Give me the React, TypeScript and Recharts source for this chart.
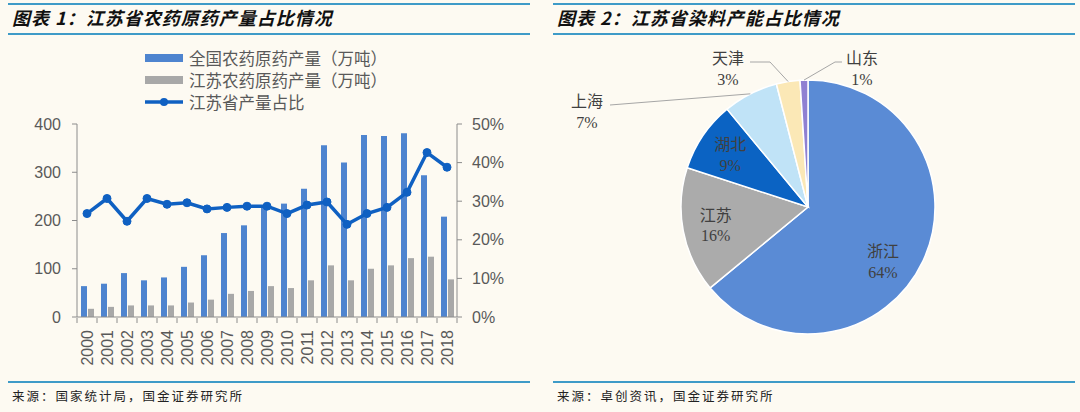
import { Bar, Cell, ComposedChart, Line, Pie, PieChart, XAxis, YAxis } from 'recharts'

const years = ['2000', '2001', '2002', '2003', '2004', '2005', '2006', '2007', '2008', '2009', '2010', '2011', '2012', '2013', '2014', '2015', '2016', '2017', '2018']
const nationalOutput = [64, 69, 91, 76, 82, 104, 128, 174, 190, 230, 235, 266, 356, 320, 377, 375, 381, 294, 208]
const jiangsuOutput = [17, 21, 24, 24, 24, 30, 36, 48, 54, 64, 60, 76, 107, 76, 100, 107, 122, 125, 78]
const jiangsuShare = [26.8, 30.7, 24.8, 30.7, 29.2, 29.6, 28.0, 28.4, 28.7, 28.7, 26.8, 29.0, 29.8, 24.0, 26.8, 28.4, 32.3, 42.6, 38.8]

const outputTicks = [0, 100, 200, 300, 400]
const shareTicks = [0, 10, 20, 30, 40, 50]

const provinces = ['浙江', '江苏', '湖北', '上海', '天津', '山东']
const capacityShare = [64, 16, 9, 7, 3, 1]
const sliceColors = ['#5A8BD5', '#ABABAB', '#0B63C3', '#C0E3F7', '#FBE8B6', '#8F80D2']

const NATIONAL_NAME = '全国农药原药产量（万吨）'
const JIANGSU_NAME = '江苏农药原药产量（万吨）'
const SHARE_NAME = '江苏省产量占比'

const BLUE = '#4E84CF'
const GRAY = '#A8A8A8'
const LINE_BLUE = '#0F60C2'
const RULE = '#3E9BC8'
const TEXT = '#595959'
const BG = '#FDFAF2'

const barData = years.map((year, i) => ({
  year,
  national: nationalOutput[i],
  jiangsu: jiangsuOutput[i],
  share: jiangsuShare[i],
}))

const pieData = provinces.map((name, i) => ({ name, value: capacityShare[i] }))

// hand-placed labels for the thin slices (offsets from pie centre), like the source
const outsideLabels: Record<string, { dx: number; dy: number; ex: number; ey: number; tx: number; ty: number }> = {
  上海: { dx: -221, dy: -106, ex: -198, ey: -102, tx: -198, ty: -102 },
  天津: { dx: -80, dy: -149, ex: -38, ey: -145, tx: -58, ty: -145 },
  山东: { dx: 54, dy: -149, ex: 27, ey: -145, tx: 34, ty: -145 },
}
const insideShift: Record<string, { dx: number; dy: number }> = {
  浙江: { dx: -10, dy: 14 },
}

const RADIAN = Math.PI / 180
const tickFont = { fill: TEXT, fontSize: 16, fontFamily: '"Liberation Sans", Arial, sans-serif' }
const pieFont = { fill: '#404040', fontSize: 16, fontFamily: '"Liberation Serif", "Noto Sans CJK SC", serif' }

function YearTick({ x, y, payload, index, visibleTicksCount }: any) {
  const half = 10
  return (
    <g>
      <line x1={x - half} x2={x - half} y1={y - 7} y2={y - 2} stroke="#8C8C8C" />
      {index === visibleTicksCount - 1 ? <line x1={x + half} x2={x + half} y1={y - 7} y2={y - 2} stroke="#8C8C8C" /> : null}
      <text
        transform={`translate(${x},${y + 5}) rotate(-90)`}
        textAnchor="end"
        dominantBaseline="central"
        {...tickFont}
      >
        {payload.value}
      </text>
    </g>
  )
}

function renderPieLabel(props: any) {
  const { cx, cy, midAngle, outerRadius, name, value } = props
  const cos = Math.cos(-midAngle * RADIAN)
  const sin = Math.sin(-midAngle * RADIAN)
  const layout = outsideLabels[name]

  if (!layout) {
    const shift = insideShift[name] ?? { dx: 0, dy: 0 }
    const x = cx + outerRadius * 0.74 * cos + shift.dx
    const y = cy + outerRadius * 0.74 * sin + shift.dy
    return (
      <text x={x} y={y} textAnchor="middle" {...pieFont}>
        <tspan x={x} dy="-0.25em">{name}</tspan>
        <tspan x={x} dy="1.3em">{`${value}%`}</tspan>
      </text>
    )
  }

  const sx = cx + outerRadius * cos
  const sy = cy + outerRadius * sin
  const lx = cx + layout.dx
  const ly = cy + layout.dy
  return (
    <g>
      <polyline
        points={`${sx},${sy} ${cx + layout.ex},${cy + layout.ey} ${cx + layout.tx},${cy + layout.ty}`}
        fill="none"
        stroke="#A6A6A6"
        strokeWidth={1}
      />
      <text x={lx} y={ly} textAnchor="middle" dominantBaseline="central" {...pieFont}>
        <tspan x={lx}>{name}</tspan>
        <tspan x={lx} dy="21">{`${value}%`}</tspan>
      </text>
    </g>
  )
}

function PanelFrame({ left, width, title, source }: { left: number; width: number; title: string; source: string }) {
  return (
    <>
      <div style={{ position: 'absolute', left, top: 3, width, height: 2, background: RULE }} />
      <div
        style={{
          position: 'absolute',
          left: left + 4,
          top: 5,
          fontFamily: '"Noto Sans CJK SC", sans-serif',
          fontWeight: 700,
          fontStyle: 'italic',
          fontSize: 18,
          letterSpacing: 1,
          lineHeight: '24px',
          color: '#111',
        }}
      >
        {title}
      </div>
      <div style={{ position: 'absolute', left, top: 33, width, height: 2, background: RULE }} />
      <div style={{ position: 'absolute', left, top: 381, width, height: 2, background: RULE }} />
      <div
        style={{
          position: 'absolute',
          left: left + 4,
          top: 387,
          fontFamily: '"Noto Sans CJK SC", serif',
          fontSize: 12.5,
          letterSpacing: 2,
          lineHeight: '18px',
          color: '#222',
        }}
      >
        {source}
      </div>
    </>
  )
}

function OutputLegend() {
  const rows = [
    { key: 'national', label: NATIONAL_NAME, kind: 'bar', color: BLUE },
    { key: 'jiangsu', label: JIANGSU_NAME, kind: 'bar', color: GRAY },
    { key: 'share', label: SHARE_NAME, kind: 'line', color: LINE_BLUE },
  ]
  return (
    <div style={{ position: 'absolute', left: 145, top: 47 }}>
      {rows.map((row) => (
        <div key={row.key} style={{ display: 'flex', alignItems: 'center', height: 22 }}>
          <svg width={40} height={12} style={{ marginRight: 4 }}>
            {row.kind === 'bar' ? (
              <rect x={0} y={2} width={38} height={8} fill={row.color} />
            ) : (
              <>
                <line x1={0} x2={38} y1={6} y2={6} stroke={row.color} strokeWidth={3.5} />
                <circle cx={19} cy={6} r={4} fill={row.color} />
              </>
            )}
          </svg>
          <span style={{ fontFamily: '"Noto Sans CJK SC", sans-serif', fontSize: 16.5, color: TEXT, lineHeight: '20px' }}>
            {row.label}
          </span>
        </div>
      ))}
    </div>
  )
}

export default function App() {
  return (
    <div style={{ position: 'absolute', left: 0, top: 0, width: 1080, height: 412, background: BG, overflow: 'hidden' }}>
      <PanelFrame left={8} width={522} title="图表 1：江苏省农药原药产量占比情况" source="来源：国家统计局，国金证券研究所" />
      <PanelFrame left={553} width={522} title="图表 2：江苏省染料产能占比情况" source="来源：卓创资讯，国金证券研究所" />

      <OutputLegend />

      <div style={{ position: 'absolute', left: 0, top: 110 }}>
        <ComposedChart width={530} height={257} data={barData} margin={{ top: 14, right: 0, bottom: 0, left: 0 }} barGap={1}>
          <XAxis
            dataKey="year"
            interval={0}
            height={50}
            tickLine={false}
            axisLine={{ stroke: '#8C8C8C' }}
            tick={<YearTick />}
          />
          <YAxis
            yAxisId="output"
            orientation="left"
            width={77}
            domain={[0, 400]}
            ticks={outputTicks}
            tickSize={5}
            tickMargin={11}
            axisLine={{ stroke: '#8C8C8C' }}
            tickLine={{ stroke: '#8C8C8C' }}
            tick={tickFont}
          />
          <YAxis
            yAxisId="share"
            orientation="right"
            width={73}
            domain={[0, 50]}
            ticks={shareTicks}
            tickSize={5}
            tickMargin={10}
            axisLine={{ stroke: '#8C8C8C' }}
            tickLine={{ stroke: '#8C8C8C' }}
            tick={tickFont}
            tickFormatter={(v: number) => `${v}%`}
          />
          <Bar yAxisId="output" dataKey="national" name={NATIONAL_NAME} fill={BLUE} barSize={6} isAnimationActive={false} />
          <Bar yAxisId="output" dataKey="jiangsu" name={JIANGSU_NAME} fill={GRAY} barSize={6} isAnimationActive={false} />
          <Line
            yAxisId="share"
            type="linear"
            dataKey="share"
            name={SHARE_NAME}
            stroke={LINE_BLUE}
            strokeWidth={3.5}
            dot={{ r: 4, fill: LINE_BLUE, stroke: LINE_BLUE, strokeWidth: 1 }}
            isAnimationActive={false}
          />
        </ComposedChart>
      </div>

      <div style={{ position: 'absolute', left: 553, top: 40 }}>
        <PieChart width={522} height={340} margin={{ top: 0, right: 0, bottom: 0, left: 0 }}>
          <Pie
            data={pieData}
            dataKey="value"
            nameKey="name"
            cx={255}
            cy={167}
            outerRadius={127}
            startAngle={90}
            endAngle={-270}
            stroke="#FFFFFF"
            strokeWidth={1.5}
            label={renderPieLabel}
            labelLine={false}
            isAnimationActive={false}
          >
            {pieData.map((entry, i) => (
              <Cell key={entry.name} fill={sliceColors[i]} />
            ))}
          </Pie>
        </PieChart>
      </div>
    </div>
  )
}
